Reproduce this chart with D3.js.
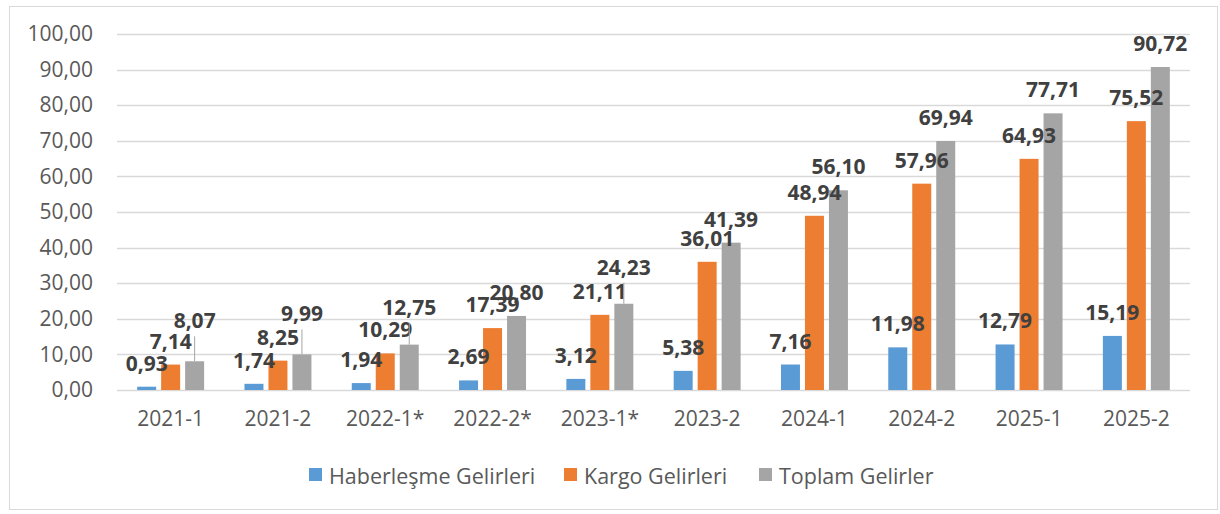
<!DOCTYPE html>
<html>
<head>
<meta charset="utf-8">
<script src="https://cdn.jsdelivr.net/npm/d3@7"></script>
<style>
	body { margin: 0; background: #fff; }
	svg text { font-family: "Open Sans", sans-serif; }
</style>
</head>
<body>
<div id="chart"></div>
<script>
let width = 1220,
	height = 514;

// data
var periods = ["2021-1", "2021-2", "2022-1*", "2022-2*", "2023-1*", "2023-2", "2024-1", "2024-2", "2025-1", "2025-2"];
var seriesNames = ["Haberleşme Gelirleri", "Kargo Gelirleri", "Toplam Gelirler"];
var haberlesme = [0.93, 1.74, 1.94, 2.69, 3.12, 5.38, 7.16, 11.98, 12.79, 15.19];
var kargo = [7.14, 8.25, 10.29, 17.39, 21.11, 36.01, 48.94, 57.96, 64.93, 75.52];
var toplam = [8.07, 9.99, 12.75, 20.80, 24.23, 41.39, 56.10, 69.94, 77.71, 90.72];
var yTicks = [0, 10, 20, 30, 40, 50, 60, 70, 80, 90, 100];

var colors = ["#5B9BD5", "#ED7D31", "#A5A5A5"];
// labels dragged up by hand in the original (series index, period index, px)
var labelLift = {"2-0": 17, "2-1": 17, "2-2": 14, "2-4": 13};

var allSeries = [haberlesme, kargo, toplam];
var fmt = v => d3.format(".2f")(v).replace(".", ",");

var svg = d3.select("#chart")
	.append("svg")
	.attr("width", width)
	.attr("height", height);

// outer frame
svg.append("rect")
	.attr("x", 9.5).attr("y", 6.5)
	.attr("width", 1208).attr("height", 503)
	.attr("fill", "#fff")
	.attr("stroke", "#D9D9D9");

var x = d3.scaleBand()
	.domain(periods)
	.range([117, 1190]);

var y = d3.scaleLinear()
	.domain([0, 100])
	.range([390, 34]);

var barW = x.bandwidth() * 0.177;
var step = barW * 1.263;
var barX = (p, i) => x(p) + x.bandwidth() / 2 + (i - 1) * step - barW / 2;

// gridlines
svg.append("g")
	.selectAll("line")
	.data(yTicks)
	.enter()
	.append("line")
	.attr("x1", 117).attr("x2", 1190)
	.attr("y1", d => Math.round(y(d)) + 0.5)
	.attr("y2", d => Math.round(y(d)) + 0.5)
	.attr("stroke", "#D9D9D9")
	.attr("stroke-width", 1.3);

// y axis labels
var leftAxis = svg.append("g")
	.attr("transform", "translate(117,0)")
	.call(d3.axisLeft(y).tickValues(yTicks).tickSize(0).tickPadding(24).tickFormat(fmt));
leftAxis.select(".domain").remove();
leftAxis.selectAll("text")
	.attr("fill", "#595959")
	.style("font-size", "21px");

// x axis labels
var bottomAxis = svg.append("g")
	.attr("transform", "translate(0,390)")
	.call(d3.axisBottom(x).tickSize(0).tickPadding(21));
bottomAxis.select(".domain").remove();
bottomAxis.selectAll("text")
	.attr("fill", "#595959")
	.style("font-size", "21px");

// bars
allSeries.forEach((vals, i) => {
	svg.append("g")
		.selectAll("rect")
		.data(vals)
		.enter()
		.append("rect")
		.attr("x", (d, j) => barX(periods[j], i))
		.attr("y", d => y(d))
		.attr("width", barW)
		.attr("height", d => y(0) - y(d))
		.attr("fill", colors[i]);
});

// leader lines + data labels
allSeries.forEach((vals, i) => {
	vals.forEach((v, j) => {
		var cx = barX(periods[j], i) + barW / 2;
		var lift = labelLift[i + "-" + j] || 0;
		var cy = y(v) - 24 - lift;
		if (lift > 0) {
			svg.append("line")
				.attr("x1", cx).attr("x2", cx)
				.attr("y1", cy + 16).attr("y2", y(v))
				.attr("stroke", "#A6A6A6")
				.attr("stroke-width", 1);
		}
		svg.append("text")
			.attr("x", cx)
			.attr("y", cy)
			.attr("text-anchor", "middle")
			.attr("dominant-baseline", "central")
			.attr("fill", "#404040")
			.style("font-size", "21px")
			.style("font-weight", "bold")
			.text(fmt(v));
	});
});

// legend
var legendX = [309, 564, 759];
var legend = svg.append("g");
seriesNames.forEach((name, i) => {
	legend.append("rect")
		.attr("x", legendX[i]).attr("y", 468)
		.attr("width", 13).attr("height", 13)
		.attr("fill", colors[i]);
	legend.append("text")
		.attr("x", legendX[i] + 20)
		.attr("y", 475)
		.attr("dominant-baseline", "central")
		.attr("fill", "#595959")
		.style("font-size", "21.5px")
		.text(name);
});
</script>
</body>
</html>
